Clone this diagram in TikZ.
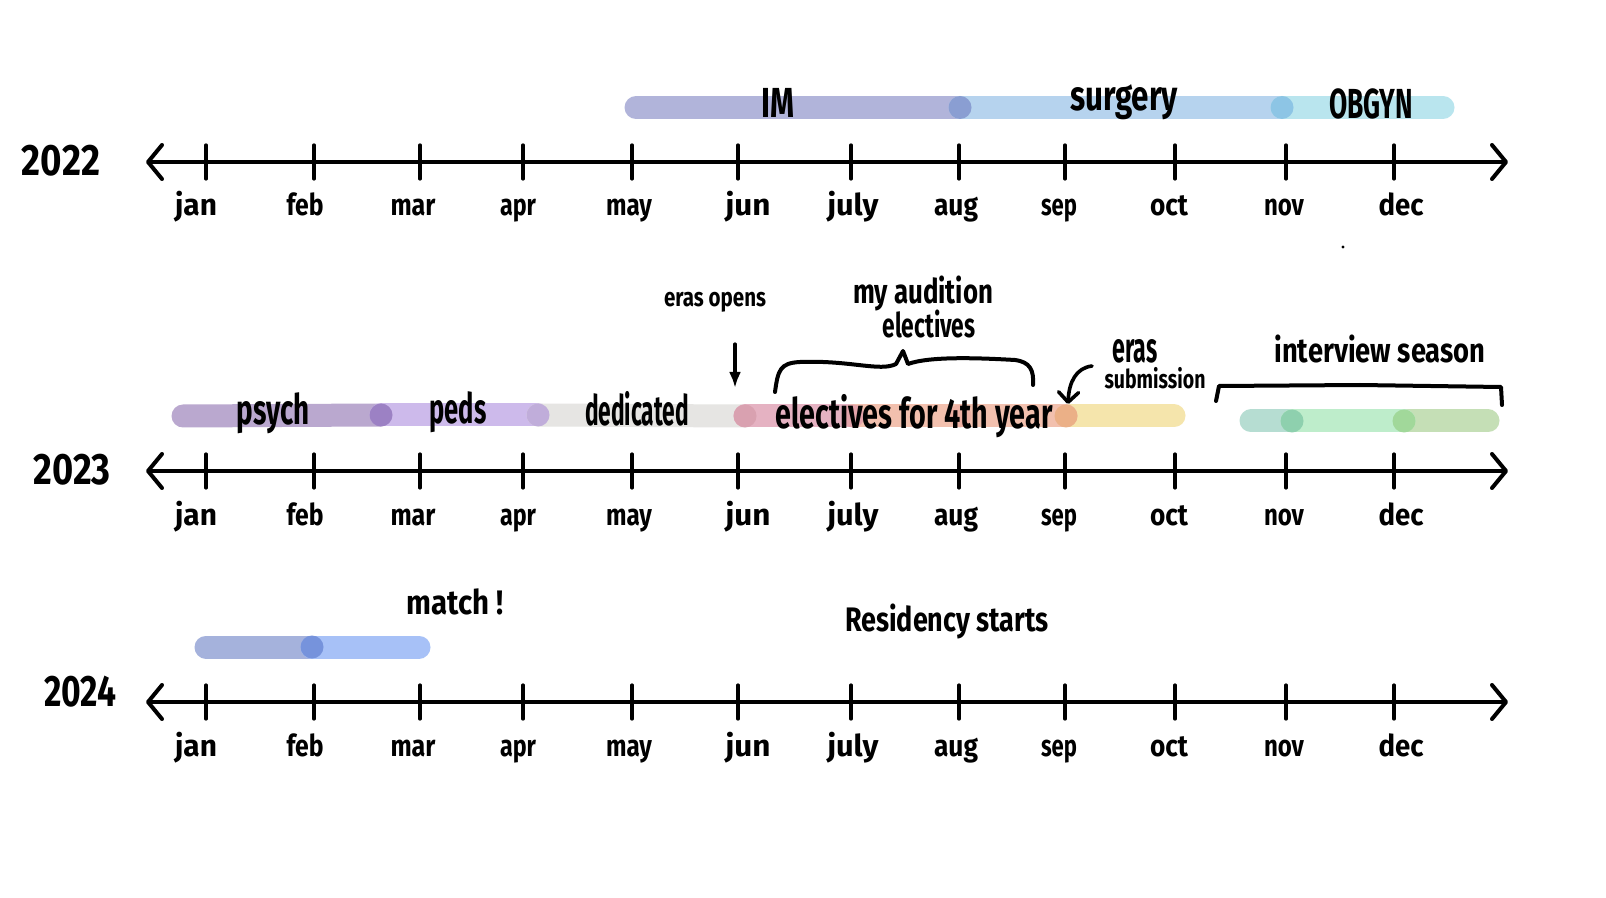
\documentclass[tikz,border=0pt]{standalone}
\usepackage{fontspec}
\usepackage{graphicx}
\setmainfont{Fira Sans}
\usetikzlibrary{arrows.meta}
\newcommand{\hwfit}[2]{\resizebox{#1}{\height}{#2}}
\definecolor{cIM}{HTML}{B1B4DA}
\definecolor{cSurg}{HTML}{B6D3EE}
\definecolor{cOB}{HTML}{B9E5EE}
\definecolor{jIMS}{HTML}{8A9ED2}
\definecolor{jSOB}{HTML}{8DC5E5}
\definecolor{cPsy}{HTML}{BAA8CF}
\definecolor{jPsy}{HTML}{9C81C4}
\definecolor{cPeds}{HTML}{CDBAEB}
\definecolor{jPeds}{HTML}{C0ADDA}
\definecolor{cDed}{HTML}{E6E5E3}
\definecolor{jDed}{HTML}{D9A1B0}
\definecolor{cElP}{HTML}{E5B2C2}
\definecolor{cElO}{HTML}{F2C0AE}
\definecolor{jElA}{HTML}{E3A3AA}
\definecolor{jElB}{HTML}{EDB0A3}
\definecolor{jSep}{HTML}{EBB087}
\definecolor{cYel}{HTML}{F5E5AC}
\definecolor{cGrA}{HTML}{B6DDD2}
\definecolor{jGrA}{HTML}{8ED0AE}
\definecolor{cGrB}{HTML}{BEEDCB}
\definecolor{jGrB}{HTML}{A1D89A}
\definecolor{cGrC}{HTML}{C5DFB6}
\definecolor{cMA}{HTML}{A5B2DC}
\definecolor{jMA}{HTML}{7693DC}
\definecolor{cMB}{HTML}{A7C1F7}
\begin{document}
\begin{tikzpicture}[x=0.5pt,y=-0.5pt,
  axisline/.style={line width=2pt, line cap=round,
    {Straight Barb[round,length=7pt,width=17pt,line width=2pt]}-{Straight Barb[round,length=7pt,width=17pt,line width=2pt]}},
  tickline/.style={line width=1.6pt, line cap=round},
  bar/.style={line width=11.5pt, line cap=round},
  hw/.style={inner sep=0pt, text=black},
  mon/.style={hw, font=\fontsize{15}{15}\selectfont\bfseries},
  yr/.style={hw, font=\fontsize{22}{22}\selectfont\bfseries},
  big/.style={hw, font=\fontsize{21}{21}\selectfont\bfseries},
  mid/.style={hw, font=\fontsize{17}{17}\selectfont\bfseries},
  small/.style={hw, font=\fontsize{13}{13}\selectfont\bfseries},
  ink/.style={line width=2pt, line cap=round, line join=round}]
\useasboundingbox (0,0) rectangle (1606,898);
\fill[white] (0,0) rectangle (1606,898);

% ---- bars 2022
\draw[bar, cIM] (636,107.5) -- (960,107.5);
\draw[bar, cSurg] (960,107.5) -- (1282,107.5);
\draw[bar, cOB] (1282,107.5) -- (1443,107.5);
\fill[jIMS] (960,107.5) circle (11.5);
\fill[jSOB] (1282,107.5) circle (11.5);

% ---- bars 2023
\draw[bar, cPsy] (183,416) -- (381,415);
\draw[bar, cPeds] (381,415) -- (538,415);
\draw[bar, cDed] (538,415) -- (745,416);
\draw[bar, cYel] (1066,416) -- (1174,416);
\draw[bar, cElP] (745,416) -- (853,416);
\draw[bar, cElO] (853,416) -- (1066,416);
\fill[jPsy] (381,415) circle (11.5);
\fill[jPeds] (538,415) circle (11.5);
\fill[jDed] (745,416) circle (11.5);
\fill[jElA] (853,416) circle (11.5);
\fill[jElB] (960,416) circle (11.5);
\fill[jSep] (1066,416) circle (11.5);
\draw[bar, cGrA] (1251,421) -- (1292,421);
\draw[bar, cGrC] (1404,421) -- (1488,421);
\draw[bar, cGrB] (1292,421) -- (1404,421);
\fill[jGrA] (1292,421) circle (11.5);
\fill[jGrB] (1404,421) circle (11.5);

% ---- bars 2024
\draw[bar, cMA] (206,647) -- (312,647);
\draw[bar, cMB] (312,647) -- (419,647);
\fill[jMA] (312,647) circle (11.5);

% ---- axes
\foreach \yy/\yn in {162/a,471/b,702/c} {
  \coordinate (L\yn) at (146,\yy);
  \coordinate (R\yn) at (1508,\yy);
  \draw[axisline] (L\yn) -- (R\yn);
  \foreach \tx/\lx/\w/\m [count=\i] in {206/196/21/jan,314/305/18.5/feb,420/413/22.5/mar,523/518/18/apr,632/629/23/may,738/748/22.5/jun,851/853/25.5/july,959/956/22/aug,1065/1059/18/sep,1175/1169/19/oct,1286/1284/20/nov,1394/1401/22.5/dec} {
    \coordinate (t\yn\i a) at (\tx,\yy-17);
    \coordinate (t\yn\i b) at (\tx,\yy+17);
    \draw[tickline] (t\yn\i a) -- (t\yn\i b);
    \node[mon, anchor=base] (m\yn\i) at (\lx,\yy+54) {\hwfit{\w pt}{\m}};
  }
}

% ---- year labels
\node[yr] (y22) at (61,161) {\hwfit{39pt}{2022}};
\node[yr] (y23) at (72,470) {\hwfit{38.5pt}{2023}};
\node[yr] (y24) at (80,692) {\hwfit{36pt}{2024}};

% ---- bar labels
\node[big] (lIM) at (778,103) {\hwfit{16.5pt}{IM}};
\node[big] (lSurg) at (1124,102) {\hwfit{54pt}{surgery}};
\node[big] (lOB) at (1371,104) {\hwfit{42pt}{OBGYN}};
\node[big] (lPsy) at (273,413) {\hwfit{36.5pt}{psych}};
\node[big] (lPeds) at (458,412) {\hwfit{28.5pt}{peds}};
\node[big] (lDed) at (637,409) {\hwfit{52pt}{dedicated}};
\node[big] (lEl) at (914,416) {\hwfit{138.5pt}{electives for 4th year}};

% ---- annotations 2023
\node[small] (eo) at (715,302) {\hwfit{51pt}{eras opens}};
\coordinate (eoA) at (735,344);
\coordinate (eoB) at (735,388);
\draw[line width=1.6pt, line cap=round, -{Latex[length=8pt,width=6pt]}] (eoA) -- (eoB);

\node[mid] (aud1) at (923,293) {\hwfit{70pt}{my audition}};
\node[mid] (aud2) at (929,324) {\hwfit{46.5pt}{electives}};
\coordinate (brL) at (775,392);
\coordinate (brT) at (903,351);
\coordinate (brR) at (1033,385);
\draw[ink] (brL) .. controls (778,370) and (780,363) .. (800,362)
  .. controls (850,360) and (880,372) .. (896,364) -- (brT) -- (908,364)
  .. controls (930,356) and (980,358) .. (1015,360)
  .. controls (1030,362) and (1034,370) .. (brR);

\node[big] (er1) at (1135,351) {\hwfit{22.5pt}{eras}};
\node[small] (er2) at (1155,378) {\hwfit{50.5pt}{submission}};
\coordinate (esA) at (1092,366);
\coordinate (esB) at (1068,404);
\draw[line width=1.8pt, line cap=round, -{Straight Barb[round,length=5pt,width=10pt,line width=1.8pt]}]
  (esA) .. controls (1076,368) and (1069,382) .. (esB);

\node[mid] (iv) at (1380,349) {\hwfit{105.5pt}{interview season}};
\coordinate (ivA) at (1216,401);
\coordinate (ivB) at (1502,405);
\draw[ink] (ivA) -- (1219,386) -- (1360,385) -- (1501,387) -- (ivB);

\fill (1343,247) circle (1.6);

% ---- annotations 2024
\node[mid] (match) at (455,602) {\hwfit{48.5pt}{match !}};
\node[mid] (res) at (947,621) {\hwfit{102pt}{Residency starts}};
\end{tikzpicture}
\end{document}
